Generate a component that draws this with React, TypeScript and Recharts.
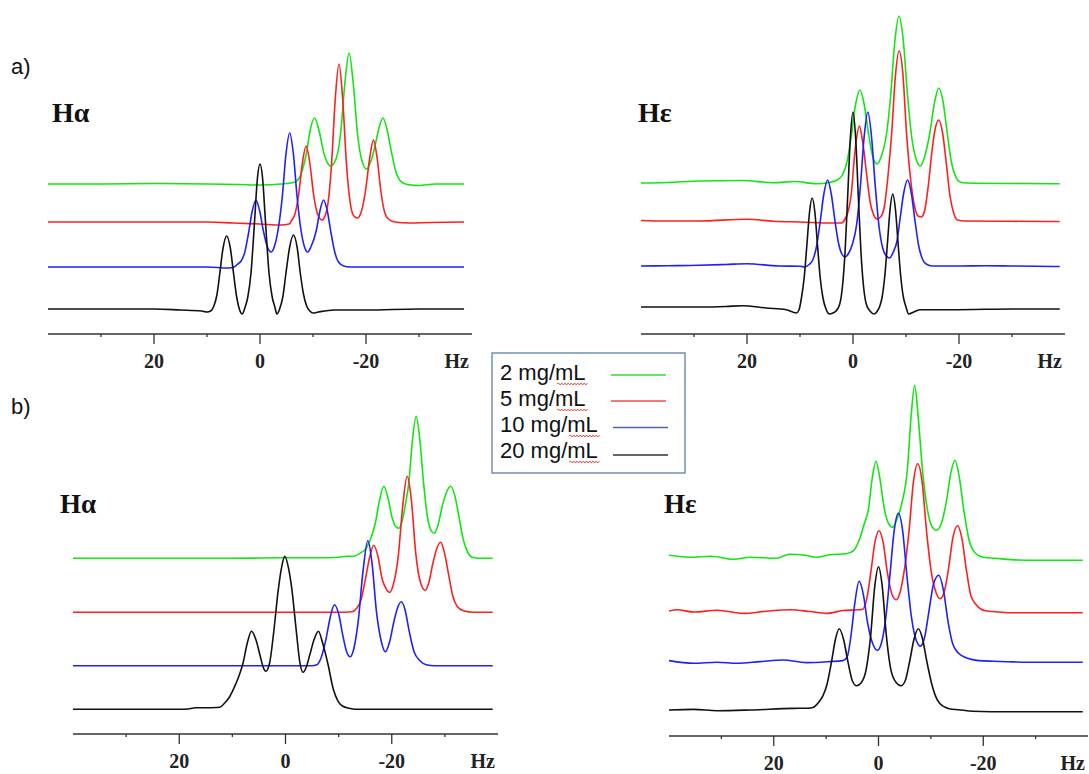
import { LineChart, Line, XAxis, YAxis } from "recharts";

type Pt = [number, number];

// x = shift in Hz, y = peak height above the trace's own baseline (px-like units)
const hzTicks = [30, 20, 10, 0, -10, -20, -30];
const concentrations = ["2 mg/mL", "5 mg/mL", "10 mg/mL", "20 mg/mL"];

// a) H-alpha
const aAlphaGreen: Pt[] = [
  [40, 0], [30, 0], [20, 0.5], [10, 0], [4, -0.5], [0, -1], [-4, 0], [-6.3, 1.5], [-7.3, 5],
  [-8.2, 18], [-8.8, 32], [-9.4, 52], [-10.3, 66], [-11.2, 52], [-12.1, 30], [-13.3, 18],
  [-14.4, 26], [-15.2, 50], [-16.0, 100], [-16.8, 131], [-17.6, 100], [-18.4, 50], [-19.2, 24],
  [-20.1, 15], [-21.0, 24], [-21.7, 38], [-22.4, 55], [-23.2, 66], [-24.0, 54], [-24.8, 32],
  [-25.6, 13], [-26.5, 3], [-27.5, 0], [-28.5, -1], [-30, -1.5], [-33, 0], [-38.5, 0],
];
const aAlphaRed: Pt[] = [
  [40, 0], [30, 0], [20, 0], [10, 0], [5, -1], [0, -2], [-4, -3], [-5.5, -2], [-6.0, 2],
  [-6.6, 8], [-7.3, 28], [-8.0, 59], [-8.7, 76], [-9.4, 59], [-10.1, 28], [-10.8, 9],
  [-11.7, 2], [-12.4, 8], [-13.0, 26], [-13.5, 58], [-14.2, 123], [-14.9, 158], [-15.6, 123],
  [-16.3, 59], [-17.0, 20], [-17.7, 6], [-18.4, 4], [-19.1, 10], [-19.9, 31], [-20.7, 64],
  [-21.4, 82], [-22.1, 64], [-22.8, 31], [-23.5, 10], [-24.2, 3], [-25.5, 0], [-28, -1],
  [-32, -0.5], [-38.5, 0],
];
const aAlphaBlue: Pt[] = [
  [40, 0], [30, 0], [20, 0], [10, 0], [6, -1], [4.9, 0], [4.2, 3], [3.56, 6], [2.86, 15],
  [2.16, 34], [1.46, 56], [0.76, 67], [0.06, 56], [-0.64, 36], [-1.4, 20], [-2.1, 15],
  [-2.8, 22], [-3.5, 40], [-4.2, 70], [-4.9, 113], [-5.6, 134], [-6.3, 113], [-7.0, 70],
  [-7.7, 38], [-8.4, 20], [-9.0, 15], [-9.6, 20], [-10.6, 36], [-11.3, 56], [-12.0, 67],
  [-12.7, 56], [-13.4, 34], [-14.1, 15], [-14.8, 5], [-15.8, 1], [-17, 0], [-25, 0], [-38.5, 0],
];
const aAlphaBlack: Pt[] = [
  [40, 0], [30, 0], [20, 0], [15, -1], [11, -2], [10, -3], [9.3, -2], [8.7, 3], [8.1, 15],
  [7.6, 35], [7.0, 60], [6.3, 73], [5.6, 61], [5.0, 36], [4.4, 12], [3.9, 0], [3.35, -5],
  [2.8, 2], [2.3, 12], [1.7, 36], [1.0, 90], [0.5, 130], [0, 145], [-0.5, 130], [-1.0, 90],
  [-1.7, 36], [-2.3, 12], [-2.8, 2], [-3.2, -5], [-3.7, 0], [-4.3, 12], [-4.9, 36],
  [-5.6, 62], [-6.3, 74], [-7.0, 62], [-7.6, 36], [-8.2, 15], [-8.8, 3], [-9.4, -2],
  [-10, -4], [-11, -3], [-14, -1], [-20, -1], [-30, 0], [-38.5, 0],
];

// a) H-epsilon
const aEpsGreen: Pt[] = [
  [40, 0], [35, 0.5], [29, 2], [21, 2.5], [15, 0.3], [11, 1.5], [6.9, -0.7], [4.5, 0.5],
  [3.0, 3], [2.0, 8], [1.1, 22], [0.3, 48], [-0.5, 79], [-1.3, 93], [-2.1, 79], [-2.9, 50],
  [-3.7, 27], [-4.5, 19], [-5.3, 26], [-6.3, 48], [-7.1, 87], [-7.9, 142], [-8.7, 167],
  [-9.5, 142], [-10.3, 87], [-11.1, 45], [-11.9, 24], [-12.7, 17], [-13.5, 26], [-14.5, 50],
  [-15.4, 81], [-16.2, 95], [-17.0, 81], [-17.8, 49], [-18.6, 20], [-19.4, 6], [-20.2, 1],
  [-21.5, 0], [-30, -0.5], [-39, -0.7],
];
const aEpsRed: Pt[] = [
  [40, 0.5], [35, 0], [29, 0], [20, 1.7], [15, -0.3], [10, -1], [4, -2], [2.2, -2], [1.5, 2],
  [0.9, 10], [0.3, 28], [-0.2, 60], [-0.6, 80], [-1.2, 95], [-1.8, 80], [-2.5, 50], [-3.2, 20],
  [-3.9, 6], [-4.5, 2], [-5.2, 4], [-5.9, 14], [-6.6, 45], [-7.3, 88], [-8.0, 145], [-8.7, 170],
  [-9.4, 148], [-10.1, 88], [-10.8, 45], [-11.6, 15], [-12.3, 5], [-12.9, 4], [-13.5, 10],
  [-14.2, 35], [-14.9, 70], [-15.5, 92], [-16.2, 101], [-16.9, 88], [-17.6, 58], [-18.3, 25],
  [-19.0, 8], [-19.7, 1], [-21, 0], [-30, -0.3], [-39, -0.5],
];
const aEpsBlue: Pt[] = [
  [40, 0], [35, 0.3], [29, 0.7], [24, 1.5], [20, 2.3], [14, 0], [10, -0.3], [9.1, -1],
  [8.4, 1], [7.6, 6], [6.9, 19], [6.2, 44], [5.5, 72], [4.8, 86], [4.1, 72], [3.4, 45],
  [2.7, 22], [2.1, 12], [1.5, 9], [0.8, 13], [0.1, 22], [-0.7, 42], [-1.4, 80], [-2.1, 129],
  [-2.8, 154], [-3.5, 129], [-4.2, 80], [-4.9, 40], [-5.6, 18], [-6.3, 10], [-6.9, 8],
  [-7.6, 14], [-8.3, 25], [-8.9, 48], [-9.6, 74], [-10.3, 86], [-11.0, 73], [-11.7, 45],
  [-12.4, 20], [-13.1, 7], [-13.8, 2], [-15, 0], [-20, 0], [-25, 0.3], [-30, 0], [-39, -0.5],
];
const aEpsBlack: Pt[] = [
  [40, 2], [35, 2], [29, 2], [24, 2.5], [20.8, 3.3], [16.4, 1], [12.6, -0.7], [10.7, -4],
  [10.2, -1], [9.7, 12], [9.2, 32], [8.7, 64], [8.2, 97], [7.7, 111], [7.2, 97], [6.7, 64],
  [6.2, 32], [5.7, 12], [5.1, 0], [4.4, -5], [3.8, -4], [3.2, -2], [2.5, 5], [2.0, 22],
  [1.5, 57], [1.0, 113], [0.5, 171], [0, 197], [-0.5, 171], [-1.0, 113], [-1.5, 57],
  [-2.0, 22], [-2.5, 5], [-3.2, -2], [-4.0, -5], [-4.6, -2], [-5.0, 2], [-5.5, 12], [-6.0, 33],
  [-6.5, 66], [-7.0, 100], [-7.5, 115], [-8.0, 100], [-8.5, 66], [-9.0, 33], [-9.5, 12],
  [-10.0, 2], [-10.5, -5], [-11.5, -3], [-12.7, -0.7], [-18, -0.7], [-25, -0.3], [-30, 0], [-39, 0],
];

// b) H-alpha
const bAlphaGreen: Pt[] = [
  [40, 0], [30, 0], [20, 0], [10, 0], [0, 0.5], [-6, 0.5], [-10, 1], [-11.5, 2], [-12.7, 2],
  [-14, 5], [-15.3, 11], [-16.2, 22], [-16.9, 35], [-17.7, 58], [-18.5, 72], [-19.3, 60],
  [-20.1, 40], [-20.7, 32], [-21.3, 30], [-22.0, 38], [-22.6, 55], [-23.2, 75], [-23.9, 118],
  [-24.6, 142], [-25.3, 118], [-26.0, 75], [-26.7, 42], [-27.4, 28], [-28.0, 25], [-28.7, 33],
  [-29.5, 52], [-30.3, 66], [-31.1, 72], [-31.9, 62], [-32.7, 40], [-33.5, 18], [-34.3, 6],
  [-35.2, 1], [-36.5, 0], [-39, 0],
];
const bAlphaRed: Pt[] = [
  [40, 0], [20, 0], [0, 0], [-10, 0], [-12.5, 0.5], [-13.4, 4], [-14.2, 12], [-15.0, 32],
  [-15.8, 54], [-16.6, 67], [-17.4, 56], [-18.2, 33], [-18.9, 24], [-19.6, 20], [-20.4, 30],
  [-21.2, 55], [-22.1, 108], [-22.9, 136], [-23.7, 112], [-24.5, 60], [-25.4, 30], [-26.3, 22],
  [-27.0, 30], [-27.7, 48], [-28.5, 64], [-29.2, 70], [-29.9, 60], [-30.7, 38], [-31.5, 16],
  [-32.3, 6], [-33.5, 1.5], [-35.4, 0], [-39, 0],
];
const bAlphaBlue: Pt[] = [
  [40, 0], [20, 0], [0, 0], [-5, 0], [-5.9, 1], [-6.7, 8], [-7.6, 26], [-8.4, 48], [-9.2, 61],
  [-10.0, 52], [-10.8, 30], [-11.5, 14], [-12.2, 9], [-12.9, 18], [-13.7, 45], [-14.6, 95],
  [-15.5, 125], [-16.3, 102], [-17.1, 55], [-18.0, 25], [-18.8, 14], [-19.6, 24], [-20.4, 44],
  [-21.1, 58], [-21.8, 64], [-22.5, 56], [-23.3, 34], [-24.2, 14], [-25.3, 5], [-26.5, 1],
  [-28, 0], [-39, 0],
];
const bAlphaBlack: Pt[] = [
  [40, 0], [30, 0], [20, 0], [18, 0.5], [17, 1.5], [15, 1.5], [13, 1.8], [12.4, 2], [11.5, 6],
  [10.7, 11], [9.9, 19], [9.0, 30], [8.0, 46], [7.2, 66], [6.4, 78], [5.6, 70], [4.7, 52],
  [4.2, 42], [3.7, 38], [3.0, 46], [2.2, 78], [1.4, 118], [0.7, 143], [0.13, 153], [-0.5, 143],
  [-1.2, 120], [-2.0, 80], [-2.7, 47], [-3.3, 37], [-3.9, 42], [-4.6, 55], [-5.4, 70],
  [-6.2, 78], [-7.0, 66], [-8.0, 45], [-9.0, 20], [-9.9, 8], [-10.8, 3], [-12, 1], [-13, 0],
  [-20, 0], [-39, 0],
];

// b) H-epsilon
const bEpsGreen: Pt[] = [
  [40, 3], [36, 1], [32, 2], [27.7, -1], [24.5, 1], [19.5, 0], [17, 4], [14, 3], [11.9, 1],
  [9.4, 3.5], [6.2, 4.5], [4.7, 8], [3.7, 18], [2.8, 33], [1.9, 50], [1.2, 80], [0.5, 97],
  [-0.2, 82], [-1.1, 50], [-1.9, 35], [-2.7, 31], [-3.6, 40], [-4.5, 56], [-5.5, 88],
  [-6.2, 140], [-6.9, 173], [-7.6, 140], [-8.4, 88], [-9.3, 50], [-10.2, 32], [-11.1, 28],
  [-12.0, 35], [-12.9, 55], [-13.8, 85], [-14.6, 98], [-15.4, 82], [-16.3, 48], [-17.3, 18],
  [-18.5, 5], [-20, 1], [-22.3, 0], [-26.7, -1.7], [-30, -2], [-39, -2],
];
const bEpsRed: Pt[] = [
  [40, 1.7], [38.4, 3], [35.3, 0.7], [30.8, 2.5], [25.8, -0.7], [21.4, 1.5], [16.9, 3],
  [13.1, 1.2], [9.9, -0.7], [6.8, 2.2], [3.7, 3], [3.0, 3.5], [2.2, 15], [1.4, 43],
  [0.7, 70], [-0.1, 82], [-0.9, 70], [-1.7, 40], [-2.6, 18], [-3.4, 13], [-4.2, 22],
  [-5.0, 45], [-5.8, 80], [-6.7, 132], [-7.5, 149], [-8.3, 132], [-9.2, 80], [-10.1, 40],
  [-11.0, 20], [-11.8, 14], [-12.6, 22], [-13.4, 45], [-14.2, 75], [-15.1, 87], [-15.9, 75],
  [-16.8, 42], [-17.6, 18], [-18.5, 9], [-20.4, 2], [-22.3, 1], [-25, 0], [-39, 0],
];
const bEpsBlue: Pt[] = [
  [40, 1.7], [35.3, -1], [30.8, 0], [27, -1], [22.6, 0.7], [18.2, 2.3], [13.8, -0.3],
  [9.4, 0.7], [6.8, 1.7], [6.0, 5], [5.3, 25], [4.5, 60], [3.7, 81], [2.9, 68], [2.1, 40],
  [1.2, 20], [0.2, 12], [-0.6, 20], [-1.4, 45], [-2.2, 88], [-3.0, 132], [-3.8, 149],
  [-4.6, 132], [-5.4, 88], [-6.3, 45], [-7.2, 22], [-8.0, 16], [-8.8, 25], [-9.6, 50],
  [-10.5, 78], [-11.5, 87], [-12.4, 72], [-13.3, 40], [-14.2, 18], [-15.3, 9], [-17, 4],
  [-19.1, 1.7], [-22, 1], [-25, 0.5], [-30, 0], [-39, 0],
];
const bEpsBlack: Pt[] = [
  [40, 0.7], [35.3, 1.3], [30.8, 0], [24.5, 0.7], [16.3, 2.3], [13.5, 2.5], [12.5, 3.3],
  [11.5, 8], [10.6, 15], [9.8, 27], [9.0, 48], [8.2, 72], [7.5, 82], [6.7, 72], [5.8, 48],
  [5.0, 30], [4.2, 25], [3.3, 28], [2.4, 40], [1.5, 75], [0.7, 125], [0, 144], [-0.7, 125],
  [-1.5, 75], [-2.4, 40], [-3.4, 28], [-4.3, 25], [-5.1, 30], [-5.9, 48], [-6.8, 72],
  [-7.6, 82], [-8.4, 72], [-9.2, 50], [-10.2, 26], [-11.2, 11], [-12.5, 4], [-13.5, 2],
  [-15.3, 1], [-18, -0.5], [-25, -1], [-39, -1],
];

const traceColors = ["#12e612", "#ff1f1f", "#1f1fff", "#111111"];
const legendColors = ["#33dd33", "#f24a4a", "#4a66b8", "#333333"];

const SERIF = '"Liberation Serif", "Times New Roman", serif';
const SANS = '"Liberation Sans", Arial, sans-serif';
const AXIS_H = 37;

function toRows(pts: Pt[], offset: number) {
  return pts.map(([x, v]) => ({ x, y: v + offset }));
}

function HzTick(props: any) {
  const { x, y, payload } = props;
  const major = payload.value % 20 === 0;
  return (
    <g>
      <line x1={x} y1={y} x2={x} y2={y + (major ? 10 : 3)} stroke="#333" strokeWidth={1.3} />
      {major && (
        <text x={x} y={y + 34} textAnchor="middle" fontFamily={SERIF} fontWeight={700} fontSize={20} fill="#222">
          {payload.value}
        </text>
      )}
    </g>
  );
}

function Spectrum(props: {
  left: number;
  top: number;
  marginLeft: number;
  marginRight?: number;
  plotWidth: number;
  plotHeight: number;
  series: Pt[][];
  offsets: number[];
}) {
  const { left, top, marginLeft, plotWidth, plotHeight, series, offsets } = props;
  const marginRight = props.marginRight ?? 4;
  return (
    <div style={{ position: "absolute", left, top }}>
      <LineChart
        width={marginLeft + plotWidth + marginRight}
        height={plotHeight + AXIS_H}
        margin={{ top: 0, right: marginRight, bottom: 0, left: marginLeft }}
      >
        <XAxis
          dataKey="x"
          type="number"
          domain={[-40, 40]}
          reversed
          allowDataOverflow
          ticks={hzTicks}
          interval={0}
          tickLine={false}
          tickSize={0}
          tickMargin={0}
          tick={(p: any) => <HzTick {...p} />}
          height={AXIS_H}
          axisLine={{ stroke: "#333", strokeWidth: 1.4 }}
          label={{
            value: "Hz",
            position: "insideBottomRight",
            offset: 3,
            fill: "#222",
            fontSize: 20,
            fontWeight: 700,
            fontFamily: SERIF,
          }}
        />
        <YAxis hide type="number" domain={[0, plotHeight]} allowDataOverflow />
        {series.map((pts, i) => (
          <Line
            key={i}
            data={toRows(pts, offsets[i])}
            dataKey="y"
            type="monotone"
            stroke={traceColors[i]}
            strokeWidth={1.6}
            dot={false}
            isAnimationActive={false}
          />
        ))}
      </LineChart>
    </div>
  );
}

function wavy(x0: number, x1: number, y: number) {
  let d = `M${x0},${y}`;
  let up = true;
  for (let x = x0 + 1.6; x <= x1; x += 1.6) {
    d += ` L${x.toFixed(1)},${(y + (up ? -1 : 1)).toFixed(1)}`;
    up = !up;
  }
  return d;
}

export default function App() {
  const rowY = [380, 406, 432, 458];
  const lineY = [375, 401, 427.5, 455];
  const squiggleX: Pt[] = [[557, 588], [557, 588], [569, 600], [569, 600]];
  return (
    <div style={{ position: "absolute", left: 0, top: 0, width: 1089, height: 774, background: "#fff", overflow: "hidden" }}>
      <Spectrum left={0} top={0} marginLeft={48} plotWidth={424} plotHeight={334}
        series={[aAlphaGreen, aAlphaRed, aAlphaBlue, aAlphaBlack]} offsets={[150, 112, 67, 25]} />
      <Spectrum left={600} top={0} marginLeft={41} plotWidth={424} plotHeight={334}
        series={[aEpsGreen, aEpsRed, aEpsBlue, aEpsBlack]} offsets={[151, 113, 68, 25]} />
      <Spectrum left={0} top={380} marginLeft={73} plotWidth={425} plotHeight={354}
        series={[bAlphaGreen, bAlphaRed, bAlphaBlue, bAlphaBlack]} offsets={[175.7, 121.7, 68.3, 24.7]} />
      <Spectrum left={640} top={380} marginLeft={29} marginRight={1} plotWidth={419} plotHeight={356}
        series={[bEpsGreen, bEpsRed, bEpsBlue, bEpsBlack]} offsets={[177.7, 123.3, 73.7, 25.3]} />

      <svg width={1089} height={774} style={{ position: "absolute", left: 0, top: 0, pointerEvents: "none" }}>
        <text x={11} y={74} fontFamily={SANS} fontSize={22} fill="#111">a)</text>
        <text x={11} y={414} fontFamily={SANS} fontSize={22} fill="#111">b)</text>
        <text x={52} y={122} fontFamily={SERIF} fontWeight={700} fontSize={28} fill="#111">Hα</text>
        <text x={638} y={122} fontFamily={SERIF} fontWeight={700} fontSize={28} fill="#111">Hε</text>
        <text x={60} y={513} fontFamily={SERIF} fontWeight={700} fontSize={27} fill="#111">Hα</text>
        <text x={664} y={513} fontFamily={SERIF} fontWeight={700} fontSize={27} fill="#111">Hε</text>

        <rect x={492} y={353} width={193} height={120} fill="#fff" stroke="#5b7fae" strokeWidth={1.3} />
        {concentrations.map((c, i) => (
          <g key={c}>
            <text x={500} y={rowY[i]} fontFamily={SANS} fontSize={22} fill="#111">{c}</text>
            <path d={wavy(squiggleX[i][0], squiggleX[i][1], rowY[i] + 4)} stroke="#e53935" strokeWidth={0.9} fill="none" />
            <line x1={611 + (i > 1 ? 2 : 0)} x2={666 + (i > 1 ? 2 : 0)} y1={lineY[i]} y2={lineY[i]} stroke={legendColors[i]} strokeWidth={1.4} />
          </g>
        ))}
      </svg>
    </div>
  );
}
